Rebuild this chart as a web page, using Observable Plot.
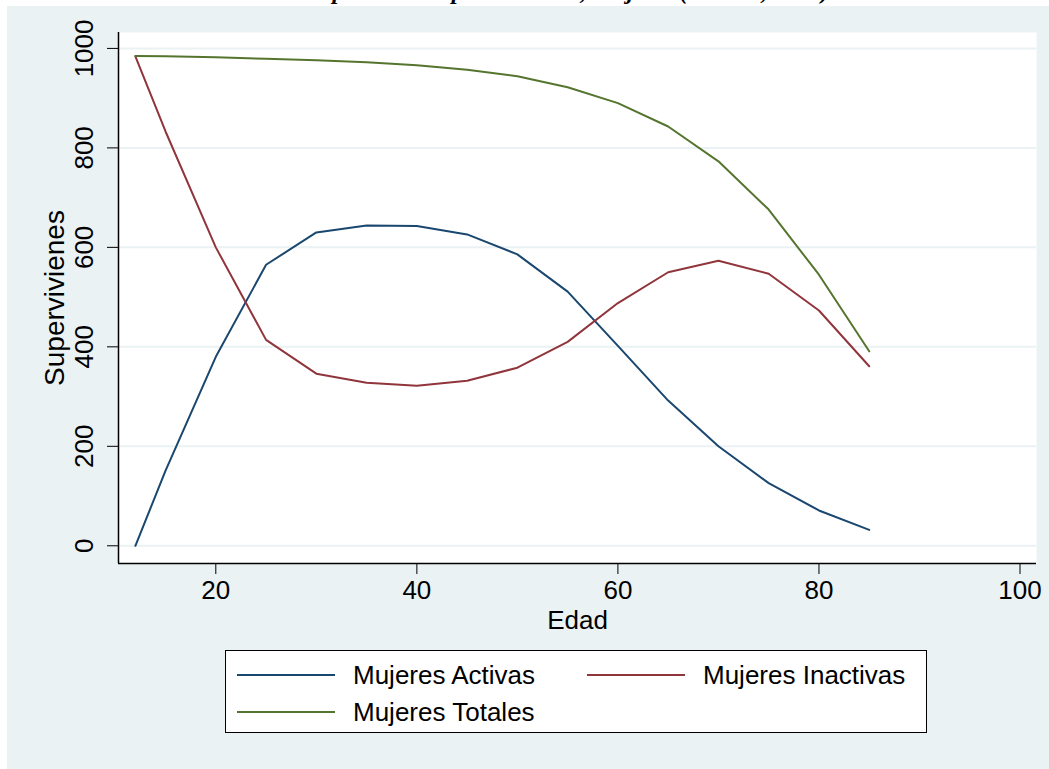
<!DOCTYPE html>
<html>
<head>
<meta charset="utf-8">
<script src="https://cdn.jsdelivr.net/npm/d3@7"></script>
<script src="https://cdn.jsdelivr.net/npm/@observablehq/plot@0.6"></script>
<style>
  html, body { margin: 0; padding: 0; background: #ffffff; }
  #page { position: relative; width: 1049px; height: 769px; overflow: hidden; background: #ffffff; }
  #bg { position: absolute; left: 7px; top: 6px; right: 0; bottom: 0; background: #eaf2f3; }
  #titlebar { position: absolute; left: 0; top: 0; width: 1049px; height: 6px; overflow: hidden; background: #ffffff; }
  #title { position: absolute; left: 0; width: 1049px; top: -21px; text-align: center;
           font: italic bold 24px/24px "Liberation Serif", "DejaVu Serif", serif; color: #000; white-space: nowrap; }
  #chart { position: absolute; left: 0; top: 0; }
  #legend { position: absolute; left: 225px; top: 650px; width: 700px; height: 81px; background: #fff;
            border: 1px solid #000; font: 26px "Liberation Sans", Arial, sans-serif; color: #000; }
  .item { position: absolute; display: flex; align-items: center; }
  .swatch { width: 98px; height: 0; border-top: 2px solid; margin-right: 18px; }
</style>
</head>
<body>
<div id="page">
  <div id="bg"></div>
  <div id="titlebar"><div id="title">Tabla de supervivencia por actividad, Mujeres (México, 2010)</div></div>
  <div id="chart"></div>
  <div id="legend"></div>
</div>
<script>
// Survivors by age for women, split by labour-force status
const edades    = [12, 15, 20, 25, 30, 35, 40, 45, 50, 55, 60, 65, 70, 75, 80, 85];
const activas   = [0, 151, 380, 565, 630, 644, 643, 626, 586, 511, 402, 292, 200, 126, 71, 32];
const inactivas = [984, 833, 600, 414, 346, 328, 322, 332, 358, 410, 488, 550, 573, 547, 473, 361];
const totales   = [985, 984, 982, 979, 976, 972, 966, 957, 944, 922, 890, 843, 773, 676, 545, 391];

const series = ["Mujeres Activas", "Mujeres Inactivas", "Mujeres Totales"];
const colores = ["#1a476f", "#90353b", "#55752f"];
const xTicks = [20, 40, 60, 80, 100];
const yTicks = [0, 200, 400, 600, 800, 1000];

const xDomain = [10.32, 101.64];
const yDomain = [-35.6, 1032];

const rows = [];
[activas, inactivas, totales].forEach((vals, k) => {
  edades.forEach((e, i) => rows.push({serie: series[k], edad: e, valor: vals[i]}));
});

const font = '"Liberation Sans", Arial, sans-serif';

const chart = Plot.plot({
  width: 1049,
  height: 769,
  marginLeft: 118,
  marginRight: 13,
  marginTop: 32,
  marginBottom: 206,
  style: {background: "transparent", fontFamily: font, fontSize: "25px", color: "#000"},
  x: {domain: xDomain},
  y: {domain: yDomain},
  color: {domain: series, range: colores},
  marks: [
    Plot.frame({fill: "#ffffff", stroke: "none"}),
    Plot.gridY(yTicks, {stroke: "#eaf2f3", strokeOpacity: 1, strokeWidth: 2}),
    Plot.ruleX([xDomain[0]], {stroke: "#000", strokeWidth: 1.5}),
    Plot.ruleY([yDomain[0]], {stroke: "#000", strokeWidth: 1.5}),
    Plot.axisX(xTicks, {tickSize: 11, tickPadding: 6, fontSize: 26, label: null}),
    Plot.axisY(yTicks, {tickSize: 11, tickPadding: 15, tickRotate: -90, fontSize: 26, label: null, tickFormat: d => String(d)}),
    Plot.text(["Edad"], {frameAnchor: "bottom", dy: 57, fontSize: 26, lineAnchor: "middle"}),
    Plot.text(["Supervivienes"], {frameAnchor: "left", textAnchor: "middle", dx: -63, rotate: -90, fontSize: 28}),
    Plot.line(rows, {x: "edad", y: "valor", stroke: "serie", z: "serie", strokeWidth: 2})
  ]
});
document.getElementById("chart").appendChild(chart);

// Legend entries laid out in two columns
const legend = document.getElementById("legend");
const pos = [[11, 24], [361, 24], [11, 61]];
series.forEach((s, i) => {
  const it = document.createElement("div");
  it.className = "item";
  it.style.left = pos[i][0] + "px";
  it.style.top = (pos[i][1] - 15) + "px";
  it.style.height = "30px";
  const sw = document.createElement("div");
  sw.className = "swatch";
  sw.style.borderColor = colores[i];
  const tx = document.createElement("span");
  tx.textContent = s;
  it.appendChild(sw);
  it.appendChild(tx);
  legend.appendChild(it);
});
</script>
</body>
</html>
